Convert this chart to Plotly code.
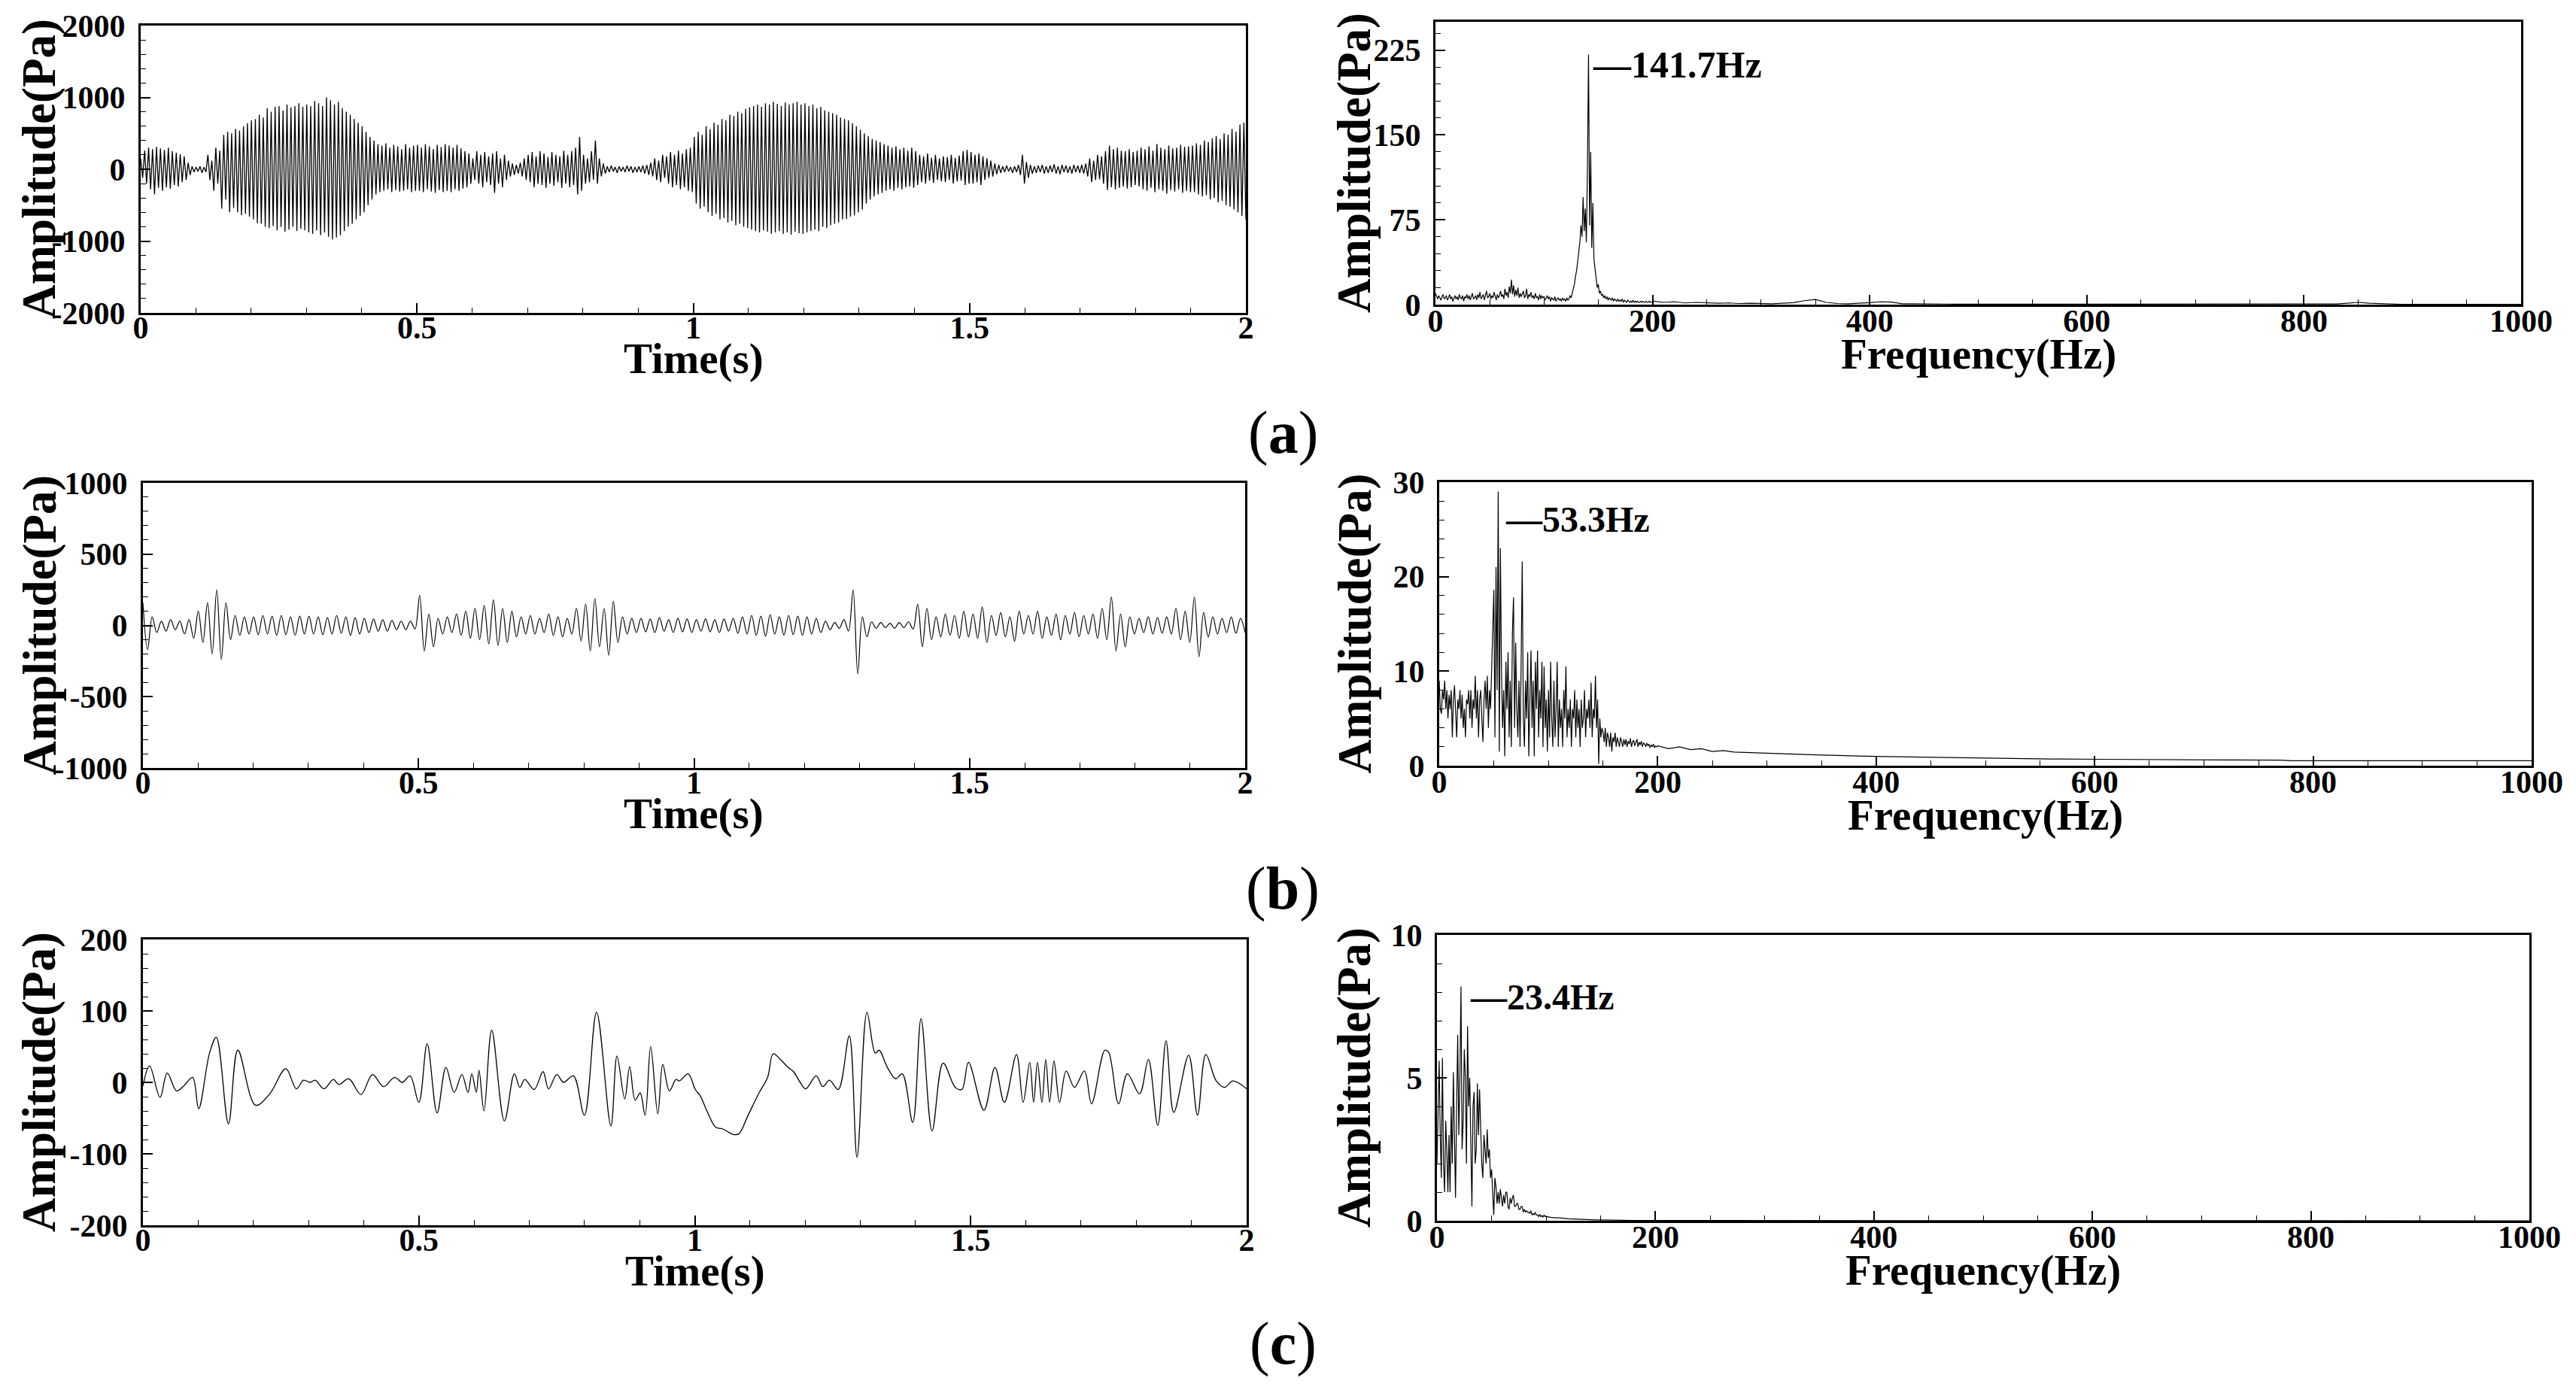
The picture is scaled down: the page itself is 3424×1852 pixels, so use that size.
import numpy as np
import plotly.graph_objects as go

W, H = 3424, 1852

# ---------------- DATA ----------------
# (a) time signal: per-cycle peak / trough values (Pa), carrier ~141.7 Hz, 0-2 s
a_peaks = [
    150, 260, 300, 280, 310, 290, 270, 300, 250, 230, 210, 180, 90, 40,
    30, 40, 30, 200, 120, 300, 260, 480, 520, 500, 560, 540, 600, 640,
    680, 700, 760, 720, 850, 800, 870, 880, 820, 900, 860, 880, 920, 870,
    900, 880, 950, 920, 880, 1000, 960, 900, 940, 850, 800, 760, 700, 650,
    600, 520, 450, 400, 350, 330, 360, 300, 340, 320, 280, 350, 300, 330,
    340, 300, 350, 320, 280, 340, 310, 350, 330, 300, 340, 290, 250, 220,
    150, 250, 200, 240, 180, 220, 250, 150, 200, 120, 80, 60, 90, 150,
    200, 240, 180, 250, 220, 170, 240, 200, 180, 260, 200, 250, 300, 450,
    200, 150, 250, 400, 150, 80, 40, 50, 30, 40, 30, 50, 40, 30,
    40, 50, 60, 90, 150, 120, 200, 180, 240, 200, 260, 220, 280, 300,
    450, 520, 480, 600, 560, 650, 620, 700, 680, 760, 740, 800, 780, 840,
    860, 880, 900, 870, 920, 900, 940, 910, 880, 930, 900, 920, 940, 900,
    920, 880, 900, 850, 870, 820, 800, 780, 760, 720, 700, 680, 640, 600,
    550, 500, 460, 420, 400, 380, 350, 330, 300, 320, 280, 300, 260, 300,
    250, 200, 180, 220, 160, 200, 150, 180, 170, 200, 160, 190, 250, 270,
    240, 200, 220, 180, 150, 120, 80, 60, 40, 50, 30, 40, 60, 200,
    100, 60, 40, 50, 60, 40, 50, 70, 40, 60, 50, 40, 60, 50,
    60, 80, 150, 120, 200, 180, 250, 330, 280, 300, 260, 250, 280, 240,
    260, 300, 280, 320, 260, 350, 300, 280, 330, 290, 300, 340, 310, 320,
    330, 360, 340, 400, 380, 430, 460, 420, 500, 480, 560, 520, 620, 650,
]
a_troughs = [
    -120, -200, -280, -350, -260, -300, -250, -270, -220, -240, -180, -150, -80, -40,
    -30, -50, -40, -150, -300, -200, -550, -420, -600, -540, -600, -640, -620, -660,
    -700, -750, -760, -800, -820, -790, -850, -800, -870, -840, -800, -860, -830, -850,
    -880, -900, -850, -920, -880, -940, -980, -950, -920, -860, -800, -760, -700, -650,
    -600, -500, -420, -350, -320, -300, -280, -320, -290, -310, -300, -280, -320, -300,
    -300, -320, -280, -310, -330, -290, -320, -300, -320, -280, -300, -270, -250, -200,
    -150, -200, -250, -180, -220, -330, -200, -250, -150, -100, -80, -60, -100, -150,
    -180, -250, -200, -220, -260, -200, -230, -180, -260, -200, -250, -220, -350, -300,
    -200, -180, -150, -200, -100, -60, -40, -30, -50, -30, -40, -30, -50, -40,
    -40, -60, -80, -100, -150, -180, -120, -200, -250, -220, -280, -250, -300, -320,
    -480, -550, -520, -600, -650, -620, -700, -680, -740, -720, -780, -760, -800, -820,
    -840, -860, -880, -850, -870, -900, -880, -860, -900, -880, -910, -870, -890, -900,
    -880, -860, -840, -860, -800, -820, -780, -760, -740, -700, -690, -660, -640, -600,
    -560, -480, -420, -380, -350, -330, -300, -280, -300, -260, -280, -250, -240, -260,
    -220, -180, -200, -160, -190, -150, -170, -180, -150, -200, -170, -160, -220, -200,
    -200, -180, -220, -150, -120, -100, -70, -50, -40, -30, -50, -40, -80, -200,
    -120, -60, -50, -40, -60, -50, -40, -60, -70, -40, -50, -60, -40, -50,
    -60, -100, -180, -150, -140, -200, -290, -250, -280, -260, -240, -270, -250, -220,
    -240, -280, -300, -260, -320, -280, -300, -340, -290, -310, -280, -330, -300, -320,
    -320, -350, -380, -360, -420, -400, -460, -440, -500, -520, -560, -600, -650, -700,
]

# (b) time signal: per-cycle peak / trough values (Pa)
b_peaks = [
    160, 60, 30, 40, 30, 40,
    100, 160, 250, 160, 70, 60,
    60, 70, 65, 70, 60, 65,
    65, 60, 55, 70, 60, 55,
    50, 45, 40, 35, 30, 30,
    210, 80, 50, 60, 80, 100,
    120, 140, 180, 120, 100, 60,
    70, 50, 80, 60, 50, 120,
    150, 190, 120, 170, 60, 50,
    50, 45, 55, 40, 50, 45,
    40, 45, 40, 45, 50, 60,
    70, 65, 75, 60, 70, 65,
    60, 50, 30, 20, 40, 250,
    60, 25, 20, 15, 20, 25,
    150, 120, 60, 80, 70, 100,
    80, 130, 70, 90, 60, 100,
    70, 100, 60, 80, 70, 90,
    70, 80, 120, 200, 80, 60,
    50, 60, 55, 60, 120, 100,
    200, 90, 60, 50, 60, 50,
]
b_troughs = [
    -170, -50, -40, -30, -60, -90,
    -120, -200, -240, -100, -70, -60,
    -65, -60, -70, -65, -70, -60,
    -60, -65, -60, -55, -70, -60,
    -50, -40, -40, -30, -30, -25,
    -180, -150, -60, -50, -70, -90,
    -100, -130, -140, -120, -80, -60,
    -60, -50, -70, -80, -60, -110,
    -180, -150, -210, -120, -60, -50,
    -45, -50, -40, -50, -45, -50,
    -40, -45, -50, -40, -55, -60,
    -70, -75, -60, -70, -65, -70,
    -60, -50, -30, -20, -40, -340,
    -80, -20, -15, -20, -15, -25,
    -150, -100, -80, -70, -90, -80,
    -90, -120, -70, -80, -110, -60,
    -60, -90, -70, -100, -60, -80,
    -60, -90, -100, -180, -150, -60,
    -50, -60, -55, -60, -100, -120,
    -220, -80, -60, -50, -55, -50,
]

# (c) time signal: turning points (s, Pa)
c_times = [
    0.000, 0.012, 0.031, 0.044, 0.061, 0.074, 0.090, 0.101, 0.121, 0.133,
    0.155, 0.172, 0.204, 0.229, 0.259, 0.278, 0.291, 0.303, 0.312, 0.328,
    0.345, 0.355, 0.373, 0.395, 0.416, 0.436, 0.456, 0.470, 0.484, 0.500,
    0.515, 0.533, 0.549, 0.564, 0.578, 0.589, 0.596, 0.604, 0.609, 0.618,
    0.632, 0.655, 0.673, 0.683, 0.692, 0.709, 0.725, 0.735, 0.750, 0.762,
    0.780, 0.800, 0.822, 0.848, 0.859, 0.873, 0.882, 0.892, 0.901, 0.910,
    0.920, 0.933, 0.942, 0.954, 0.966, 0.972, 0.988, 1.001, 1.010, 1.022,
    1.038, 1.050, 1.070, 1.080, 1.096, 1.117, 1.132, 1.142, 1.154, 1.169,
    1.179, 1.191, 1.201, 1.220, 1.232, 1.244, 1.260, 1.280, 1.294, 1.312,
    1.327, 1.334, 1.349, 1.364, 1.376, 1.395, 1.410, 1.430, 1.450, 1.472,
    1.484, 1.496, 1.524, 1.544, 1.561, 1.583, 1.595, 1.607, 1.614, 1.621,
    1.629, 1.636, 1.643, 1.651, 1.661, 1.673, 1.688, 1.706, 1.719, 1.743,
    1.750, 1.768, 1.784, 1.806, 1.822, 1.839, 1.854, 1.868, 1.895, 1.911,
    1.926, 1.945, 1.960, 1.975, 2.000,
]
c_values = [
    -5, 23, -21, 13, -12, -5, 7, -37, 42, 63,
    -58, 45, -32, -17, 19, -9, 3, 0, 3, -9,
    4, -3, 5, -17, 11, -6, 7, 0, 9, -28,
    54, -43, 21, -14, 11, -14, 12, -14, 17, -40,
    73, -54, 12, -7, 4, -10, 15, -9, 11, 0,
    9, -46, 98, -61, 37, -23, 22, -25, -15, -46,
    50, -44, 25, -12, 4, 2, 12, -10, -19, -40,
    -63, -65, -73, -72, -47, -14, 7, 40, 33, 21,
    15, 0, -9, 9, -6, 3, -10, 65, -105, 98,
    41, 45, 21, 5, 12, -56, 89, -68, 27, -7,
    -10, 28, -39, 21, -28, 39, -28, 28, -28, 28,
    -28, 32, -28, 30, -28, 16, -7, 16, -30, 45,
    42, -30, 12, -16, 32, -60, 58, -42, 38, -46,
    39, 2, -7, 2, -9,
]

# Spectra (Pa): 1 Hz grid at low frequency, then a coarser tail
a_spec_low = [
    10, 7, 5, 8, 6, 4, 7, 9, 5, 6,
    8, 4, 6, 9, 5, 7, 3, 6, 8, 5,
    7, 4, 9, 6, 5, 8, 3, 7, 6, 9,
    5, 8, 4, 7, 10, 5, 6, 8, 4, 9,
    6, 11, 5, 7, 9, 4, 8, 12, 6, 7,
    10, 5, 8, 6, 11, 7, 4, 9, 6, 8,
    12, 7, 9, 5, 14, 8, 11, 6, 16, 10,
    22, 9, 17, 7, 13, 8, 15, 6, 10, 7,
    9, 12, 6, 8, 14, 5, 9, 7, 11, 6,
    8, 5, 10, 6, 7, 4, 9, 5, 8, 6,
    7, 4, 6, 8, 5, 7, 3, 6, 5, 4,
    7, 3, 5, 6, 4, 5, 3, 6, 4, 5,
    3, 6, 4, 5, 8, 6, 10, 14, 18, 25,
    30, 38, 45, 55, 70, 60, 95, 65, 85, 55,
    120, 221, 70, 135, 50, 90, 40, 30, 22, 15,
    18, 10, 12, 8, 9, 6, 8, 5, 7, 4,
    6, 5, 4, 6, 3, 5, 4, 3, 5, 3,
    4, 3, 5, 2, 4, 3, 2, 4, 3, 2,
    3, 2, 4, 2, 3, 2, 3, 2, 2, 3,
    2, 3, 2, 2, 3, 2, 2, 3, 2, 2,
]
a_spec_tail = [
    3, 2, 2.5, 1.5, 2, 1.5, 1.2, 1.5, 1, 1.2, 1, 0.8, 1.2, 1.8, 3.5, 4.5, 2, 1, 0.8, 1.2,
    1.8, 2.5, 2.2, 0.8, 0.6, 0.5, 0.4, 0.5, 0.4, 0.4, 0.5, 0.4, 0.4, 0.3, 0.4, 0.3, 0.3, 0.3, 0.3, 0.3,
    0.4, 0.3, 0.3, 0.3, 0.3, 0.3, 0.3, 0.3, 0.3, 0.3, 0.3, 0.3, 0.3, 0.3, 0.3, 0.3, 0.3, 0.3, 0.3, 0.3,
    0.3, 0.3, 0.3, 0.6, 1.2, 2, 1.2, 0.8, 0.4, 0.3, 0.3, 0.3, 0.3, 0.3, 0.3, 0.3, 0.3, 0.3, 0.3, 0.3,
    0.3,
]
b_spec_low = [
    9, 6, 5.5, 8, 7, 9, 6, 8, 5, 7.5,
    6, 8, 3, 7, 8.5, 5, 3, 7, 6, 8,
    5, 7.5, 4, 6, 3, 7, 6.5, 8, 5, 8,
    4, 7, 6, 9.5, 5, 8, 3, 7, 8, 5,
    2.5, 7, 9, 6, 9.5, 4, 8, 6, 10, 13,
    18.6, 3, 21, 8, 29, 1.5, 23, 10, 4, 8,
    1, 11, 6, 12, 3, 9, 2, 14, 17.8, 4,
    13, 6, 3, 9, 2, 11, 21.6, 5, 2, 9,
    5, 12, 1, 7, 12.2, 4, 9, 1, 11, 6,
    12.2, 3, 8, 5, 11, 2, 10.5, 4, 7, 1.5,
    8, 3, 11, 5, 2, 9, 3, 6, 11, 2,
    7, 4, 6, 2, 8, 5, 10.5, 3, 6, 4,
    7, 2, 6, 5, 8, 3, 7, 4, 6, 2,
    7, 4, 5, 8, 3, 6, 5, 7, 4, 8.8,
    3, 6, 5, 9.5, 4, 7, 0.2, 5, 3, 4,
    3.5, 2.5, 4, 2, 3.5, 3, 2, 3.5, 1.5, 3,
    2.5, 3.5, 2, 3, 2.5, 2, 3, 2.5, 2, 2.8,
    2.2, 2.8, 2, 2.6, 2.3, 2.9, 2, 2.5, 2.7, 2.1,
    2.4, 2.8, 2, 2.5, 2.2, 2.6, 2, 2.4, 2.3, 2,
    2.4, 2.1, 2.3, 1.9, 2.2, 2.0, 2.3, 1.9, 2.1, 2.0,
]
b_spec_tail = [
    2.1, 1.8, 2.0, 1.7, 1.8, 1.5, 1.6, 1.45, 1.4, 1.37, 1.33, 1.28, 1.24, 1.2, 1.16, 1.12, 1.09, 1.06, 1.03, 1.0,
    0.98, 0.96, 0.94, 0.92, 0.9, 0.88, 0.85, 0.83, 0.81, 0.79, 0.77, 0.76, 0.75, 0.74, 0.73, 0.71, 0.7, 0.7, 0.69, 0.69,
    0.69, 0.68, 0.68, 0.67, 0.63, 0.62, 0.62, 0.61, 0.61, 0.61, 0.61, 0.6, 0.6, 0.6, 0.6, 0.6, 0.6, 0.59, 0.53, 0.53,
    0.53, 0.53, 0.53, 0.53, 0.53, 0.53, 0.53, 0.53, 0.53, 0.53, 0.53, 0.53, 0.53, 0.53, 0.53, 0.53, 0.53, 0.53, 0.53, 0.53,
    0.53,
]
c_spec_low = [
    2, 4, 5.6, 3, 1.5, 5.7, 2, 1, 3.5, 2.5,
    1, 3, 1, 4, 2, 5.2, 3, 0.8, 4, 6.5,
    3, 5, 8.2, 2.5, 3.5, 6, 5, 2, 6.8, 4,
    5, 3, 0.5, 4, 4.5, 2, 2.5, 4.8, 3, 4.6,
    3.2, 2, 1.5, 3, 2.5, 2, 3.2, 2.2, 2.5, 1.5,
    1.8, 1, 0.2, 1.5, 1.2, 0.6, 1, 0.6, 1.1, 0.8,
    0.5, 0.9, 0.6, 1, 1.0, 0.5, 0.4, 0.8, 0.6, 0.8,
    0.9, 0.5, 0.5, 0.6, 0.6, 0.4, 0.4, 0.5, 0.5, 0.3,
    0.4, 0.3, 0.35, 0.3, 0.3, 0.25, 0.35, 0.2, 0.25, 0.2,
    0.3, 0.2, 0.2, 0.15, 0.22, 0.15, 0.18, 0.12, 0.2, 0.15,
]
c_spec_tail_f = [100, 104, 108, 112, 116, 120, 125, 130, 135, 140, 145, 150, 160, 170, 180, 200, 250, 300, 400, 500, 600, 700, 800, 900, 1000]
c_spec_tail = [0.15, 0.12, 0.1, 0.1, 0.08, 0.07, 0.06, 0.05, 0.05, 0.04, 0.03, 0.03, 0.02, 0.02, 0.01, 0.01, 0.01, 0, 0, 0, 0, 0, 0, 0, 0]

peak_labels = ["141.7Hz", "53.3Hz", "23.4Hz"]
panel_labels = ["a", "b", "c"]

time_ticks = [0, 0.5, 1, 1.5, 2]
time_ticktext = ["0", "0.5", "1", "1.5", "2"]
freq_ticks = [0, 200, 400, 600, 800, 1000]
left_yticks = [[-2000, -1000, 0, 1000, 2000], [-1000, -500, 0, 500, 1000], [-200, -100, 0, 100, 200]]
right_yticks = [[0, 75, 150, 225], [0, 10, 20, 30], [0, 5, 10]]

# ---------------- BUILD ----------------
def zigzag(peaks, troughs, t_end=2.0):
    vals = []
    for p, q in zip(peaks, troughs):
        vals.extend([p, q])
    t = np.linspace(0, t_end, len(vals))
    return t, np.array(vals, dtype=float)

def spectrum(low, tail, tail_f=None):
    f_low = np.arange(len(low), dtype=float)
    if tail_f is None:
        tail_f = 200.0 + 10.0 * np.arange(len(tail))
    return (np.concatenate([f_low, np.asarray(tail_f, float)]),
            np.concatenate([np.asarray(low, float), np.asarray(tail, float)]))

ta, ya = zigzag(a_peaks, a_troughs)
tb, yb = zigzag(b_peaks, b_troughs)
fa, sa = spectrum(a_spec_low, a_spec_tail)
fb, sb = spectrum(b_spec_low, b_spec_tail)
fc, sc = spectrum(c_spec_low, c_spec_tail, c_spec_tail_f)

# pixel boxes (left, top, right, bottom)
boxes_left = [(187, 34, 1656, 416), (190, 642, 1655, 1021), (190, 1249, 1657, 1629)]
boxes_right = [(1908, 29, 3351, 405), (1913, 641, 3365, 1018), (1910, 1243, 3362, 1623)]

def dom(box):
    l, t, r, b = box
    return [l / W, r / W], [1 - b / H, 1 - t / H]

FONT = "Liberation Serif"
tickfont = dict(family=FONT, size=42, color="black", weight="bold")

fig = go.Figure()
fig.add_trace(go.Scatter(x=ta, y=ya, mode="lines", line=dict(color="black", width=1.3), xaxis="x", yaxis="y"))
fig.add_trace(go.Scatter(x=fa, y=sa, mode="lines", line=dict(color="black", width=1.2), xaxis="x2", yaxis="y2"))
fig.add_trace(go.Scatter(x=tb, y=yb, mode="lines", line=dict(color="black", width=1.2, shape="spline", smoothing=1.0), xaxis="x3", yaxis="y3"))
fig.add_trace(go.Scatter(x=fb, y=sb, mode="lines", line=dict(color="black", width=1.2), xaxis="x4", yaxis="y4"))
fig.add_trace(go.Scatter(x=c_times, y=c_values, mode="lines", line=dict(color="black", width=1.3, shape="spline", smoothing=1.0), xaxis="x5", yaxis="y5"))
fig.add_trace(go.Scatter(x=fc, y=sc, mode="lines", line=dict(color="black", width=1.2), xaxis="x6", yaxis="y6"))

def axis_common():
    return dict(showline=True, linecolor="black", linewidth=3, mirror=True, ticks="inside",
                ticklen=13, tickwidth=1.5, tickcolor="black", showgrid=False, zeroline=False,
                tickfont=tickfont, automargin=False, fixedrange=True)

def minor(d):
    return dict(dtick=d, tick0=0, ticks="inside", ticklen=7, tickwidth=1.2, tickcolor="black", showgrid=False)

layout = dict(width=W, height=H, autosize=False, margin=dict(l=0, r=0, t=0, b=0),
              paper_bgcolor="white", plot_bgcolor="white", showlegend=False)

right_ranges = [[0, 250], [0, 30], [0, 10]]
right_minor = [15, 2, 1]
left_ranges = [[-2000, 2000], [-1000, 1000], [-200, 200]]
left_minor = [200, 100, 20]

annotations = []
spectra = [(fa, sa), (fb, sb), (fc, sc)]
label_y = [212, 26.1, 7.84]
label_dx = [2.5, 5, 7]
label_size = [50, 48, 48]

for i in range(3):
    xn_l = 2 * i + 1
    xn_r = 2 * i + 2
    sfx_l = "" if xn_l == 1 else str(xn_l)
    sfx_r = str(xn_r)
    dxl, dyl = dom(boxes_left[i])
    dxr, dyr = dom(boxes_right[i])

    ax = axis_common()
    ax.update(domain=dxl, anchor="y" + sfx_l, range=[0, 2], tickmode="array",
              tickvals=time_ticks, ticktext=time_ticktext, minor=minor(0.1), ticklabelstandoff=-19)
    layout["xaxis" + sfx_l] = ax
    ay = axis_common()
    ay.update(domain=dyl, anchor="x" + sfx_l, range=left_ranges[i], tickmode="array",
              tickvals=left_yticks[i], ticktext=[str(v) for v in left_yticks[i]],
              minor=minor(left_minor[i]), ticklabelstandoff=9)
    layout["yaxis" + sfx_l] = ay

    ax = axis_common()
    ax.update(domain=dxr, anchor="y" + sfx_r, range=[0, 1000], tickmode="array",
              tickvals=freq_ticks, ticktext=[str(v) for v in freq_ticks], minor=minor(50),
              ticklabelstandoff=-17)
    layout["xaxis" + sfx_r] = ax
    ay = axis_common()
    ay.update(domain=dyr, anchor="x" + sfx_r, range=right_ranges[i], tickmode="array",
              tickvals=right_yticks[i], ticktext=[str(v) for v in right_yticks[i]],
              minor=minor(right_minor[i]), ticklabelstandoff=8)
    layout["yaxis" + sfx_r] = ay

    bl = boxes_left[i]
    br = boxes_right[i]
    annotations.append(dict(text="<b>Time(s)</b>", x=(bl[0] + bl[2]) / 2 / W, y=1 - (bl[3] + 61) / H,
                            xref="paper", yref="paper", showarrow=False, xanchor="center", yanchor="middle",
                            font=dict(family=FONT, size=57, color="black")))
    annotations.append(dict(text="<b>Frequency(Hz)</b>", x=(br[0] + br[2]) / 2 / W, y=1 - (br[3] + 66) / H,
                            xref="paper", yref="paper", showarrow=False, xanchor="center", yanchor="middle",
                            font=dict(family=FONT, size=57, color="black")))
    annotations.append(dict(text="<b>Amplitude(Pa)</b>", x=52 / W, y=1 - (bl[1] + bl[3]) / 2 / H,
                            xref="paper", yref="paper", showarrow=False, textangle=-90,
                            xanchor="center", yanchor="middle",
                            font=dict(family=FONT, size=63, color="black")))
    annotations.append(dict(text="<b>Amplitude(Pa)</b>", x=1800 / W, y=1 - (br[1] + br[3]) / 2 / H,
                            xref="paper", yref="paper", showarrow=False, textangle=-90,
                            xanchor="center", yanchor="middle",
                            font=dict(family=FONT, size=63, color="black")))
    f, s = spectra[i]
    fpk = f[int(np.argmax(s))]
    annotations.append(dict(text="<b>\u2014" + peak_labels[i] + "</b>", x=fpk + label_dx[i], y=label_y[i],
                            xref="x" + sfx_r, yref="y" + sfx_r, showarrow=False,
                            xanchor="left", yanchor="middle",
                            font=dict(family=FONT, size=label_size[i], color="black")))

panel_y = [575, 1181, 1786]
for i in range(3):
    annotations.append(dict(text="(<b>" + panel_labels[i] + "</b>)", x=1705 / W, y=1 - panel_y[i] / H,
                            xref="paper", yref="paper", showarrow=False, xanchor="center", yanchor="middle",
                            font=dict(family=FONT, size=80, color="black")))

layout["annotations"] = annotations
fig.update_layout(**layout)

fig.write_html("out.html", config={"displayModeBar": False},
               post_script="document.body.style.margin='0';document.body.style.overflow='hidden';")
